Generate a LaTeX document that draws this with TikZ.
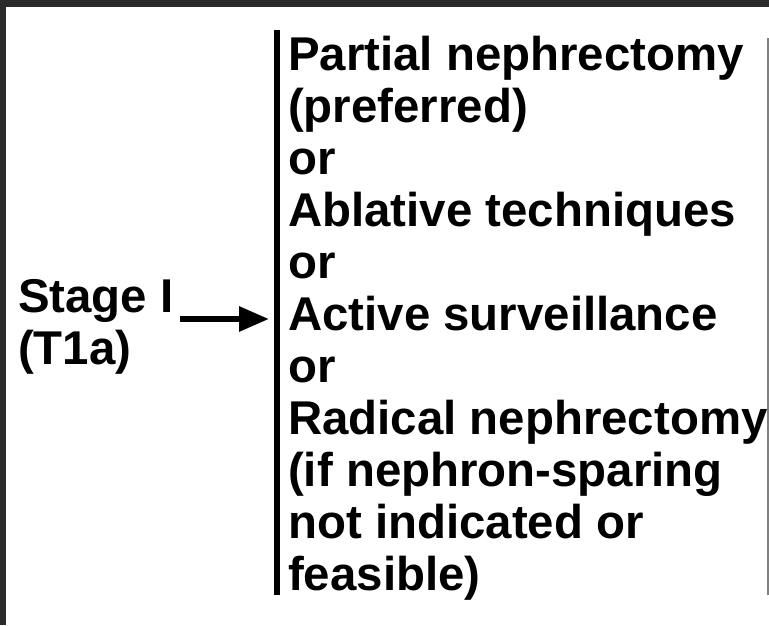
\documentclass[tikz,border=0pt]{standalone}
\usepackage{fontspec}
\setmainfont{Liberation Sans}
\usetikzlibrary{arrows.meta}
\definecolor{frame}{HTML}{2B2B2B}
\begin{document}
\begin{tikzpicture}[x=1pt,y=1pt,
  txt/.style={inner sep=0pt, anchor=base west, align=left,
    font=\fontsize{47.4}{52}\selectfont\bfseries},
  bar/.style={line width=6pt},
  arr/.style={line width=6pt, -{Triangle[length=30pt,width=24pt]}}]
\useasboundingbox (0,0) rectangle (769,625);
\fill[white] (0,0) rectangle (769,625);
\fill[frame] (0,618) rectangle (769,625);
\fill[frame] (0,0) rectangle (6,625);
\draw[gray, line width=1.2pt] (768,587) -- (768,30);
% base west anchors at the baseline of the last line
\node[txt] (stage) at (18,261) {Stage I\\(T1a)};
\node[txt] (opts) at (288,35) {Partial nephrectomy\\(preferred)\\or\\Ablative techniques\\or\\Active surveillance\\or\\Radical nephrectomy\\(if nephron-sparing\\not indicated or\\feasible)};
\coordinate (bartop) at (276.5,595);
\coordinate (barbot) at (276.5,30);
\draw[bar] (bartop) -- (barbot);
\coordinate (astart) at (180,306);
\coordinate (aend) at (269,306);
\draw[arr] (astart) -- (aend);
\end{tikzpicture}
\end{document}
